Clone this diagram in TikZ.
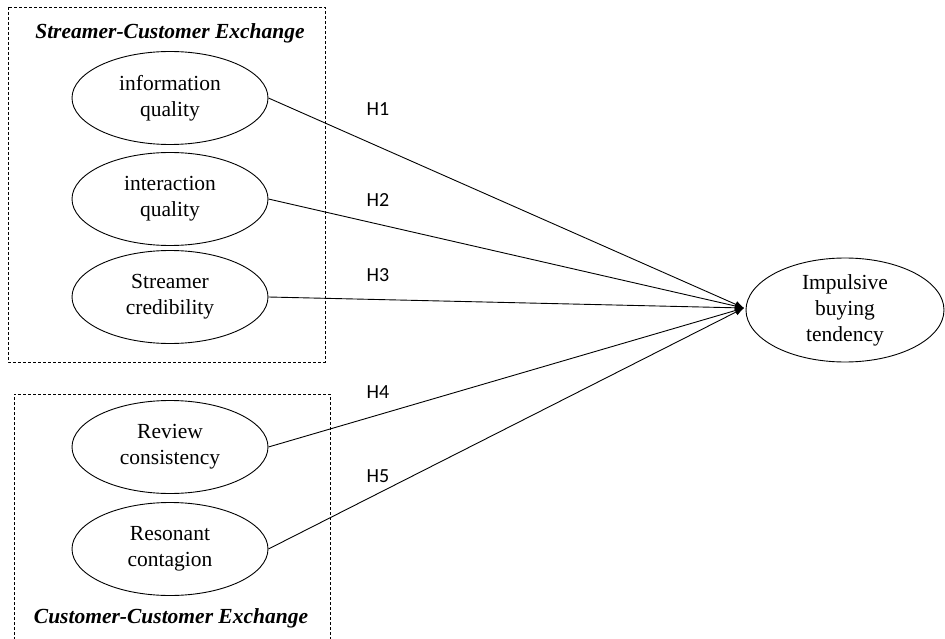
\documentclass[tikz,border=0pt]{standalone}
\usepackage{fontspec}
\setmainfont{Liberation Serif}
\newfontfamily\hfont{Carlito}
\usetikzlibrary{shapes.geometric,arrows.meta}
\begin{document}
\begin{tikzpicture}[x=1pt,y=-1pt,
  cons/.style={draw,ellipse,line width=0.9pt,minimum width=196pt,minimum height=93pt,inner sep=0pt,align=center,font=\fontsize{21.5}{26}\selectfont},
  grp/.style={draw,line width=0.8pt,dash pattern=on 3pt off 2pt},
  ttl/.style={font=\fontsize{21.5}{26}\selectfont\bfseries\itshape},
  hyp/.style={font=\hfont\fontsize{20}{24}\selectfont},
  link/.style={line width=0.9pt,-{Latex[length=9pt,width=7pt]}}]
\useasboundingbox (0,0) rectangle (945,639);
\draw[grp] (8,7) rectangle (325,362);
\draw[grp] (14,650) -- (14,394) -- (330,394) -- (330,650);
\node[ttl] (t1) at (170,33) {Streamer-Customer Exchange};
\node[ttl] (t2) at (171,618) {Customer-Customer Exchange};
\node[cons] (iq) at (170,98) {information\\quality};
\node[cons] (inq) at (170,199) {interaction\\quality};
\node[cons] (sc) at (170,297) {Streamer\\credibility};
\node[cons] (rc) at (170,447) {Review\\consistency};
\node[cons] (rg) at (170,549) {Resonant\\contagion};
\node[cons,minimum width=198pt,minimum height=104pt] (imp) at (845,310) {Impulsive\\buying\\tendency};
\coordinate (tip) at (744,308);
\draw[link] (iq.east) -- (tip);
\draw[link] (inq.east) -- (tip);
\draw[link] (sc.east) -- (tip);
\draw[link] (rc.east) -- (tip);
\draw[link] (rg.east) -- (tip);
\node[hyp] (h1) at (378,109) {H1};
\node[hyp] (h2) at (378,200) {H2};
\node[hyp] (h3) at (378,275) {H3};
\node[hyp] (h4) at (378,392) {H4};
\node[hyp] (h5) at (378,476) {H5};
\end{tikzpicture}
\end{document}
